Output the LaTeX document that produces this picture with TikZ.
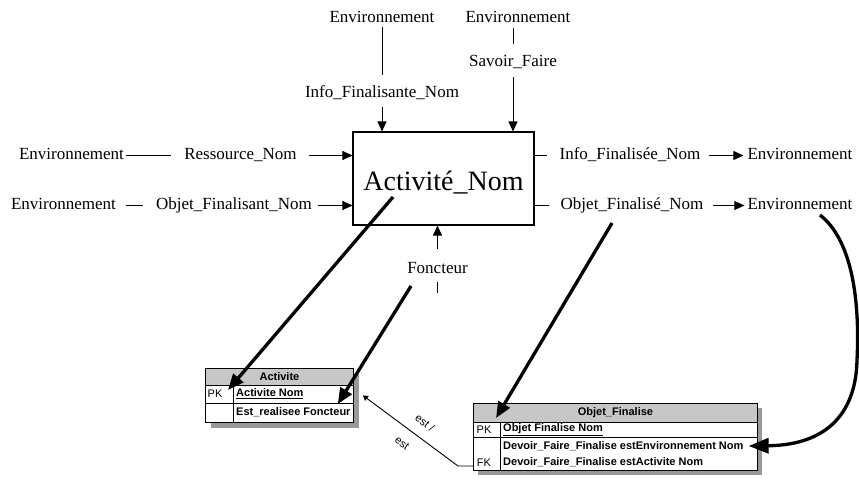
\documentclass[tikz,border=0pt]{standalone}
\usepackage{fontspec}
\setmainfont{Liberation Serif}
\newfontfamily\tabfont{Liberation Sans}
\usetikzlibrary{arrows.meta}
\begin{document}
\begin{tikzpicture}[x=1pt,y=-1pt,
  lbl/.style={font=\fontsize{17}{20}\selectfont, inner sep=0pt, anchor=base},
  link/.style={line width=0.9pt},
  arr/.style={link, -{Triangle[length=10pt,width=9pt]}},
  big/.style={line width=3.3pt, -{Triangle[length=16pt,width=13pt]}},
  tbl/.style={draw, line width=0.9pt, fill=white, inner sep=0pt},
  tline/.style={line width=0.9pt},
  hdrfill/.style={fill=black!22},
  shadowfill/.style={fill=black!40},
  tt/.style={font=\tabfont\fontsize{11}{13}\selectfont, inner sep=0pt},
  ttb/.style={font=\tabfont\bfseries\fontsize{11}{13}\selectfont, inner sep=0pt},
]
\useasboundingbox (0,0) rectangle (859,481);

% main activity box
\node[draw, line width=1.1pt, minimum width=181pt, minimum height=93pt, inner sep=0pt,
      font=\fontsize{28}{30}\selectfont, text height=26pt, text depth=2pt] (act) at (443.5,178.5) {Activité\_Nom};

% labels
\node[lbl] (envTL) at (382,22.5) {Environnement};
\node[lbl] (infoF) at (382,98) {Info\_Finalisante\_Nom};
\node[lbl] (envTR) at (518,22.5) {Environnement};
\node[lbl] (savoir) at (513,67) {Savoir\_Faire};
\node[lbl] (envL1) at (71.5,160) {Environnement};
\node[lbl] (ress) at (240.5,160) {Ressource\_Nom};
\node[lbl] (envL2) at (63.5,210) {Environnement};
\node[lbl] (objFant) at (234,210) {Objet\_Finalisant\_Nom};
\node[lbl] (infoFee) at (630,160) {Info\_Finalisée\_Nom};
\node[lbl] (envR1) at (800,160) {Environnement};
\node[lbl] (objFee) at (632,210) {Objet\_Finalisé\_Nom};
\node[lbl] (envR2) at (800,210) {Environnement};
\node[lbl] (fonct) at (437.5,273) {Foncteur};

% top connectors
\draw[link, shorten <=4pt, shorten >=11pt] (envTL.south) -- (infoF.north);
\draw[arr, shorten <=7pt] (infoF.south) -- (infoF.south |- act.north);
\draw[link, shorten <=5pt, shorten >=12pt] (savoir.north |- envTR.south) -- (savoir.north);
\draw[arr, shorten <=8pt] (savoir.south) -- (savoir.south |- act.north);

% left connectors
\draw[link, shorten <=2pt, shorten >=13pt] ([yshift=4.5pt]envL1.base east) -- ([yshift=4.5pt]ress.base west);
\draw[arr, shorten <=12pt] ([yshift=4.5pt]ress.base east) -- ([yshift=4.5pt]ress.base east -| act.west);
\draw[link, shorten <=10pt, shorten >=13pt] ([yshift=4.5pt]envL2.base east) -- ([yshift=4.5pt]objFant.base west);
\draw[arr, shorten <=6pt] ([yshift=4.5pt]objFant.base east) -- ([yshift=4.5pt]objFant.base east -| act.west);

% right connectors
\draw[link, shorten >=12pt] ([yshift=4.5pt]infoFee.base west -| act.east) -- ([yshift=4.5pt]infoFee.base west);
\draw[arr, shorten <=8pt, shorten >=4pt] ([yshift=4.5pt]infoFee.base east) -- ([yshift=4.5pt]envR1.base west);
\draw[link, shorten >=12pt] ([yshift=4.5pt]objFee.base west -| act.east) -- ([yshift=4.5pt]objFee.base west);
\draw[arr, shorten <=9pt, shorten >=3pt] ([yshift=4.5pt]objFee.base east) -- ([yshift=4.5pt]envR2.base west);

% bottom connector
\draw[arr, shorten <=13pt] (fonct.north) -- (fonct.north |- act.south);
\coordinate (fonctTail) at (438,293);
\draw[link, shorten <=9pt] (fonct.south) -- (fonct.south |- fonctTail);

% table Activite
\fill[shadowfill] (211,374) rectangle (359,428);
\node[tbl, minimum width=148pt, minimum height=54pt, anchor=north west] (tA) at (205,368) {};
\fill[hdrfill] (tA.north west) rectangle ([yshift=-17pt]tA.north east);
\draw[tline] ([yshift=-17pt]tA.north west) -- ([yshift=-17pt]tA.north east);
\draw[tline] ([yshift=-35pt]tA.north west) -- ([yshift=-35pt]tA.north east);
\draw[tline] ([shift={(28pt,-17pt)}]tA.north west) -- ([xshift=28pt]tA.south west);
\draw[tline] (tA.north west) rectangle (tA.south east);
\node[ttb] (tAh) at ([yshift=-8.5pt]tA.north) {Activite};
\node[tt] (pkA) at (215,394) {PK};
\node[ttb, anchor=west] (nomA) at (236,394) {\underline{Activite Nom}};
\node[ttb, anchor=west] (estA) at (236,412.5) {Est\_realisee Foncteur};

% table Objet_Finalise
\fill[shadowfill] (478,408) rectangle (762,475);
\node[tbl, minimum width=284pt, minimum height=67pt, anchor=north west] (tB) at (473,403) {};
\fill[hdrfill] (tB.north west) rectangle ([yshift=-19pt]tB.north east);
\draw[tline] ([yshift=-19pt]tB.north west) -- ([yshift=-19pt]tB.north east);
\draw[tline] ([yshift=-34pt]tB.north west) -- ([yshift=-34pt]tB.north east);
\draw[tline] ([shift={(27pt,-19pt)}]tB.north west) -- ([xshift=27pt]tB.south west);
\draw[tline] (tB.north west) rectangle (tB.south east);
\node[ttb] (tBh) at ([yshift=-9.5pt]tB.north) {Objet\_Finalise};
\node[tt] (pkB) at (484,430) {PK};
\node[ttb, anchor=west] (nomB) at (503,430) {\underline{Objet Finalise Nom}};
\node[ttb, anchor=west] (envB) at (503,446) {Devoir\_Faire\_Finalise estEnvironnement Nom};
\node[tt] (fkB) at (484,462.5) {FK};
\node[ttb, anchor=west] (actB) at (503,462.5) {Devoir\_Faire\_Finalise estActivite Nom};

% relationship between the tables
\draw[link, -{Triangle[length=5pt,width=6pt]}] ([yshift=-3.5pt]fkB.west -| tB.west) -- ++(-15,0) -- ([xshift=9pt]tA.east);
\node[tt, rotate=-37] (estL1) at (425,423) {est /};
\node[tt, rotate=-37] (estL2) at (402,443) {est};

% thick mapping arrows
\coordinate (actOut) at (393,197);
\draw[big] (actOut) -- ([xshift=5.5pt]pkA.north east);
\coordinate (foncOut) at (411,286);
\draw[big] (foncOut) -- ([shift={(-13pt,3.5pt)}]estA.north east);
\draw[big] ([shift={(-20pt,-13pt)}]objFee.base) -- ([shift={(4.5pt,8pt)}]pkB.north east);
\draw[big, -{Triangle[length=20pt,width=15pt]}] ([shift={(20pt,-5pt)}]envR2.base)
   .. controls (852,240) and (860,300) .. (857,360)
   .. controls (856,410) and (830,445) .. ([xshift=5pt]envB.east);
\end{tikzpicture}
\end{document}
